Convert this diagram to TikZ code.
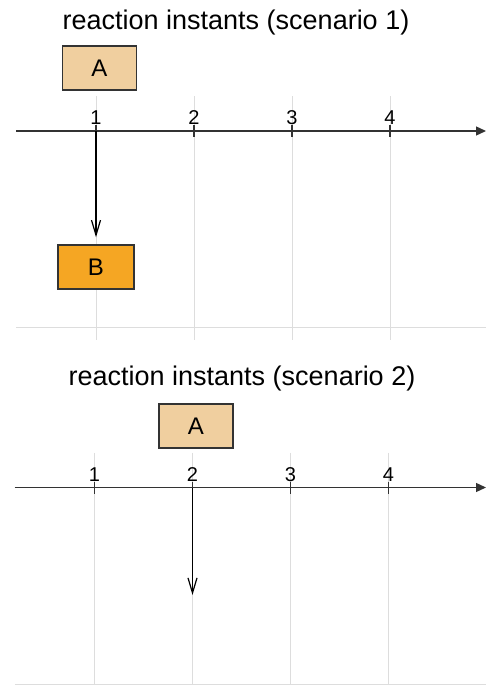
\documentclass[tikz,border=0pt]{standalone}
\usepackage{fontspec}
\setmainfont{Liberation Sans}
\usetikzlibrary{arrows.meta,positioning}
\definecolor{lightA}{HTML}{F0CF9F}
\definecolor{darkB}{HTML}{F5A623}
\definecolor{gridgray}{HTML}{DDDDDD}
\definecolor{linegray}{HTML}{333333}
\tikzstyle{axis} = [line width=1.3pt,draw=linegray,-{Triangle[length=10pt,width=9pt]}]
\tikzstyle{tick} = [line width=1.3pt,draw=linegray]
\tikzstyle{grid} = [line width=1pt,draw=gridgray]
\tikzstyle{flow} = [line width=1.2pt,-{Straight Barb[length=15pt,width=9pt]}]
\tikzstyle{num} = [inner sep=0pt,font=\fontsize{20}{22}\selectfont]
\tikzstyle{title} = [inner sep=0pt,font=\fontsize{27}{30}\selectfont]
\tikzstyle{box} = [draw=linegray,line width=1.5pt,minimum width=74pt,minimum height=44pt,inner sep=0pt,font=\fontsize{24}{26}\selectfont]

\begin{document}
\begin{tikzpicture}[x=1pt,y=-1pt]
  \useasboundingbox (0,0) rectangle (486,685);
  % both time lines
  \foreach \s/\dx/\dy in {1/0/0,2/-1.5/356.5}{
    \foreach \i/\x in {1/96,2/194,3/292,4/390}{
      \draw[grid] ({\x+\dx},{96+\dy}) -- ({\x+\dx},{340+\dy});
    }
    \draw[grid] ({16+\dx},{327.5+\dy}) -- (486,{327.5+\dy});
    \coordinate (s\s) at ({16+\dx},{131+\dy});
    \coordinate (e\s) at (486,{131+\dy});
    \draw[axis] (s\s) -- (e\s);
    \foreach \i/\x in {1/96,2/194,3/292,4/390}{
      \coordinate (p\s\i) at ({\x+\dx},{131+\dy});
      \draw[tick] ([yshift=6pt]p\s\i) -- ([yshift=-6pt]p\s\i);
      \node[num] (n\s\i) at ({\x+\dx},{118+\dy}) {\i};
    }
  }
  % scenario 1
  \node[title] (title1) at (236,22.5) {reaction instants (scenario 1)};
  \node[box,fill=lightA] (A1) at (99.5,68) {A};
  \node[box,fill=darkB,minimum width=76pt] (B1) at (96,267) {B};
  \draw[flow] (p11) -- (B1) [shorten >=7pt];
  % scenario 2
  \node[title] (title2) at (242,378.5) {reaction instants (scenario 2)};
  \node[box,fill=lightA] (A2) at (196,426) {A};
  \coordinate (r2) at (192.5,595);
  \draw[flow] (p22) -- (r2);
\end{tikzpicture}
\end{document}
